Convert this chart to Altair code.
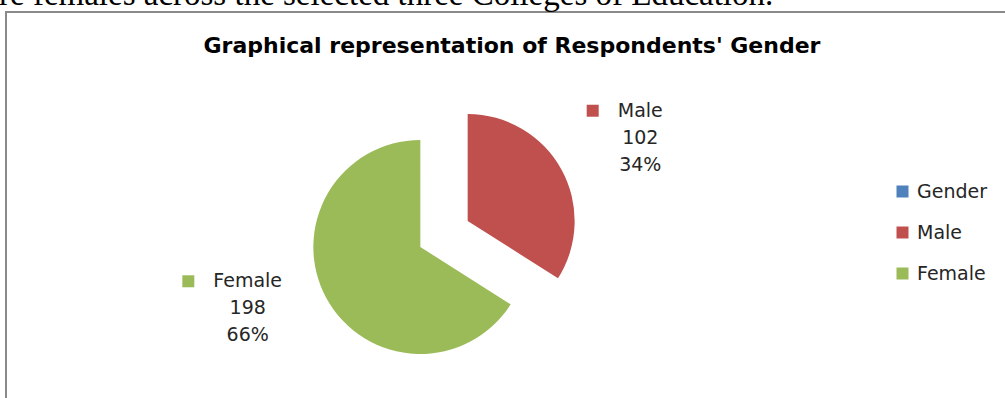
import altair as alt
import pandas as pd

# Respondents by gender
genders = ["Male", "Female"]
counts = [102, 198]

# Legend entries (the series name appears as an entry too) and their colours
legend_items = ["Gender", "Male", "Female"]
palette = ["#4F81BD", "#C0504D", "#9BBB59"]

chart_title = "Graphical representation of Respondents' Gender"
body_text = "re females across the selected three Colleges of Education."

# Layout of the exploded pie
CX, CY = 444, 234        # pie centre before explosion
EXPLODE = 27             # distance each slice is pulled out
R = 107                  # slice radius
LRX, LRY, LDY = 197, 150, -38   # first line of each data label, around its slice
FONT = "DejaVu Sans"
TEXT_COLOR = "#262626"

df = pd.DataFrame({"gender": genders, "count": counts, "idx": list(range(len(genders)))})

color = alt.Color(
    "gender:N",
    scale=alt.Scale(domain=legend_items, range=palette),
    legend=alt.Legend(
        title=None,
        orient="none",
        legendX=893,
        legendY=182,
        symbolType="square",
        symbolSize=144,
        symbolStrokeWidth=0,
        labelFontSize=19,
        labelFont=FONT,
        labelColor=TEXT_COLOR,
        labelOffset=5,
        rowPadding=21,
        padding=0,
    ),
)

base = (
    alt.Chart(df)
    .transform_joinaggregate(total="sum(count)")
    .transform_window(cum="sum(count)", sort=[alt.SortField("idx")], frame=[None, 0])
    .transform_calculate(
        t1="datum.cum / datum.total * 2 * PI",
        t0="(datum.cum - datum.count) / datum.total * 2 * PI",
    )
    .transform_calculate(mid="(datum.t0 + datum.t1) / 2")
    .transform_calculate(
        vx=f"{CX} + {EXPLODE} * sin(datum.mid)",
        vy=f"{CY} - {EXPLODE} * cos(datum.mid)",
    )
    .transform_calculate(
        lx=f"datum.vx + {LRX} * sin(datum.mid)",
        ly=f"datum.vy - {LRY} * cos(datum.mid) + ({LDY})",
        label="datum.gender + '\\n' + datum.count + '\\n' + format(datum.count / datum.total, '.0%')",
    )
    .transform_calculate(
        mx="datum.lx - 5.9 * length(datum.gender) - 24",
        my="datum.ly",
    )
)

xpix = lambda f: alt.X(f, type="quantitative", scale=None, axis=None)
ypix = lambda f: alt.Y(f, type="quantitative", scale=None, axis=None)

pie = base.mark_arc(outerRadius=R).encode(
    theta=alt.Theta("t0:Q", scale=None),
    theta2="t1:Q",
    x=xpix("vx"),
    y=ypix("vy"),
    color=color,
)

labels = base.mark_text(
    lineBreak="\n", fontSize=19, lineHeight=27, font=FONT, color=TEXT_COLOR,
    align="center", baseline="middle",
).encode(x=xpix("lx"), y=ypix("ly"), text="label:N")

markers = base.mark_square(size=144, opacity=1, filled=True).encode(
    x=xpix("mx"), y=ypix("my"), color=color
)

one = pd.DataFrame({"t": [chart_title], "b": [body_text]})

frame = alt.Chart(one).mark_rect(fill="transparent", stroke="#8a8a8a", strokeWidth=2).encode(
    x=alt.value(6), x2=alt.value(1012), y=alt.value(12), y2=alt.value(410)
)

title = alt.Chart(one).mark_text(
    font=FONT, fontSize=22, fontWeight="bold", color="#000000", align="center", baseline="alphabetic"
).encode(x=alt.value(512), y=alt.value(53), text="t:N")

body = alt.Chart(one).mark_text(
    font="Liberation Serif", fontSize=33, color="#000000", align="left", baseline="alphabetic"
).encode(x=alt.value(-1), y=alt.value(5), text="b:N")

chart = (
    alt.layer(frame, body, title, pie, markers, labels)
    .properties(width=1005, height=398, padding=0, autosize="none", background="white")
    .configure_view(stroke=None)
)

chart.save("out.html", embed_options={"renderer": "svg", "actions": False})
